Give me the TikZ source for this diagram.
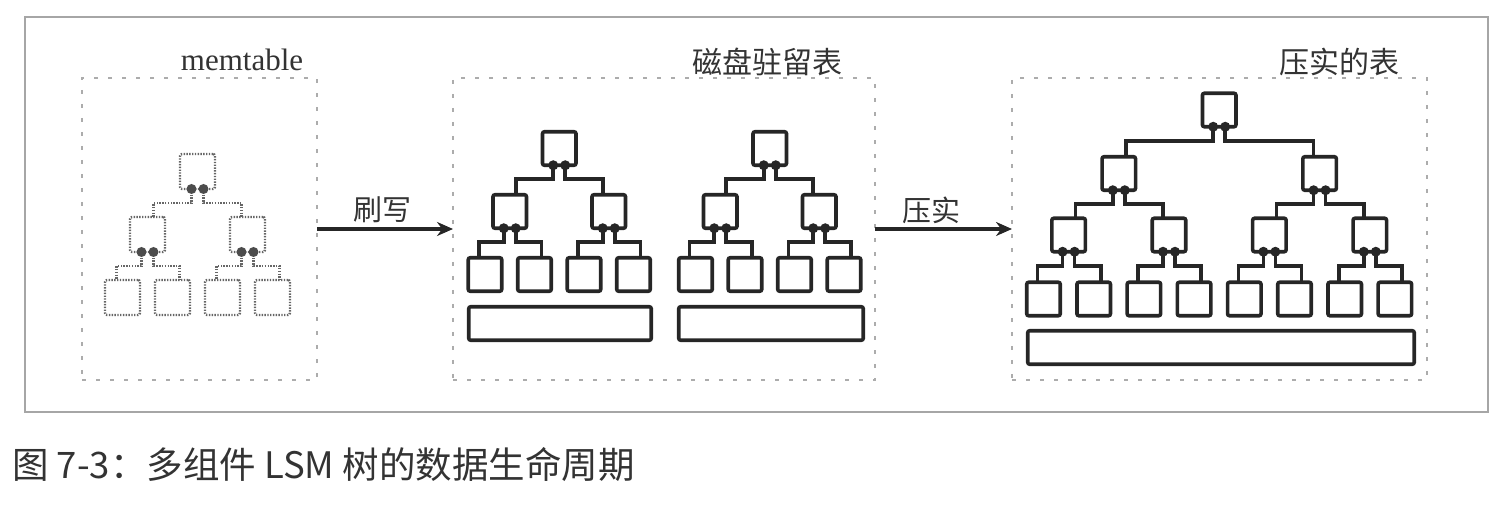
\documentclass[tikz,border=0pt]{standalone}
\usepackage{fontspec}
\setmainfont{Liberation Serif}
\newfontfamily\cjk{Noto Sans CJK SC}
\usetikzlibrary{arrows.meta,calc}

% four leaves, two inner nodes and a root; #1 prefix, #2 first leaf x,
% #3 leaf pitch, #4 leaf y, #5 box style
\newcommand\smalltree[5]{%
  \foreach \i in {0,...,3} \node[#5] (#1l\i) at ({#2+\i*#3},#4) {};
  \node[#5] (#1m0) at ({#2+0.5*#3},{#4-63}) {};
  \node[#5] (#1m1) at ({#2+2.5*#3},{#4-63}) {};
  \node[#5] (#1r)  at ({#2+1.5*#3},{#4-126}) {};
}
% elbow link from a parent's bottom to a child's top
% #1 parent, #2 child, #3 dot offset, #4 entry offset, #5 line style
\newcommand\elbow[5]{%
  \draw[#5] ($(#1.south)+(#3,0)$) -- ++(0,14) -| ($(#2.north)+(#4,0)$);
}
% the pair of link dots under a parent
\newcommand\linkdots[2]{%
  \fill[#2] ($(#1.south)+(-6,0)$) circle (5);
  \fill[#2] ($(#1.south)+(6,0)$) circle (5);
}
% a parent with its two children
\newcommand\family[6]{% #1 parent, #2 left, #3 right, #4 left entry, #5 right entry, #6 style
  \elbow{#1}{#2}{-6}{#4}{#6}
  \elbow{#1}{#3}{6}{#5}{#6}
}

\begin{document}
\begin{tikzpicture}[x=1pt,y=-1pt,
  frame/.style={draw=gray!70, line width=1.6pt},
  panel/.style={draw=gray!65, line width=1.5pt, dash pattern=on 4pt off 10pt,
    minimum height=302pt, inner sep=0pt, outer sep=0pt},
  tbox/.style={draw=black!85, line width=3.6pt, rounded corners=2pt,
    minimum width=33.5pt, minimum height=33.5pt, inner sep=0pt, outer sep=0pt},
  bar/.style={tbox, minimum height=33.5pt},
  tline/.style={draw=black!85, line width=3.6pt},
  tdot/.style={black!85},
  mbox/.style={draw=black!60, line width=2.4pt, dash pattern=on 1.4pt off 1.4pt,
    rounded corners=2pt, minimum width=35pt, minimum height=35pt,
    inner sep=0pt, outer sep=0pt},
  mline/.style={draw=black!60, line width=2.4pt, dash pattern=on 1.4pt off 1.4pt},
  mdot/.style={black!70},
  flow/.style={draw=black!85, line width=3.6pt, -{Stealth[length=16pt,width=14pt]}},
  title/.style={text=black!80, inner sep=0pt},
  cjktitle/.style={title, font=\cjk\fontsize{30}{32}\selectfont},
]
\useasboundingbox (0,0) rectangle (1504,510);

% outer frame
\draw[frame] (25,17) rectangle (1488,412);

% the three stages
\node[panel, minimum width=235pt] (p1) at (199.5,229) {};
\node[panel, minimum width=422pt] (p2) at (664,229) {};
\node[panel, minimum width=415pt] (p3) at (1219.5,229) {};

\node[title, font=\fontsize{31}{33}\selectfont] (t1) at (242,60) {memtable};
\node[cjktitle] (t2) at (767,62) {磁盘驻留表};
\node[cjktitle] (t3) at (1339,62) {压实的表};

% stage 1: in-memory tree
\smalltree{m}{122.5}{50}{297.5}{mbox}
\family{mr}{mm0}{mm1}{6}{-6}{mline}
\family{mm0}{ml0}{ml1}{-6}{7}{mline}
\family{mm1}{ml2}{ml3}{-6}{7}{mline}
\foreach \n in {mr,mm0,mm1} {\linkdots{\n}{mdot}}

% stage 2: two on-disk trees with their bars
\foreach \p/\x in {a/485,b/695.5} {
  \smalltree{\p}{\x}{49.5}{274.5}{tbox}
  \family{\p r}{\p m0}{\p m1}{6}{-6}{tline}
  \family{\p m0}{\p l0}{\p l1}{-6}{7}{tline}
  \family{\p m1}{\p l2}{\p l3}{-6}{7}{tline}
  \foreach \n in {\p r,\p m0,\p m1} {\linkdots{\n}{tdot}}
}
\node[bar, minimum width=182.5pt] (abar) at (560,323.5) {};
\node[bar, minimum width=184.5pt] (bbar) at (771,323.5) {};

% stage 3: compacted tree
\foreach \i in {0,...,7} \node[tbox] (cl\i) at ({1043.5+\i*50.2},299) {};
\foreach \i in {0,...,3} \node[tbox] (ck\i) at ({1068.6+\i*100.4},235) {};
\node[tbox] (cm0) at (1118.8,173.5) {};
\node[tbox] (cm1) at (1319.6,173.5) {};
\node[tbox] (cr) at (1219.2,110) {};
\node[bar, minimum width=386.5pt] (cbar) at (1221,347.5) {};
\family{cr}{cm0}{cm1}{7}{-6}{tline}
\family{cm0}{ck0}{ck1}{7}{-6}{tline}
\family{cm1}{ck2}{ck3}{7}{-6}{tline}
\family{ck0}{cl0}{cl1}{-6}{7}{tline}
\family{ck1}{cl2}{cl3}{-6}{7}{tline}
\family{ck2}{cl4}{cl5}{-6}{7}{tline}
\family{ck3}{cl6}{cl7}{-6}{7}{tline}
\foreach \n in {cr,cm0,cm1,ck0,ck1,ck2,ck3} {\linkdots{\n}{tdot}}

% transitions
\draw[flow] (p1.east) -- (p2.west);
\draw[flow] (p2.east) -- (p3.west);
\node[cjktitle, font=\cjk\fontsize{29}{31}\selectfont] (flush) at (382,210) {刷写};
\node[cjktitle, font=\cjk\fontsize{29}{31}\selectfont] (compact) at (931,210) {压实};

% caption
\node[title, anchor=west, font=\cjk\fontsize{36.5}{38}\selectfont] (cap) at (12,465)
  {图 7-3：多组件 LSM 树的数据生命周期};
\end{tikzpicture}
\end{document}
